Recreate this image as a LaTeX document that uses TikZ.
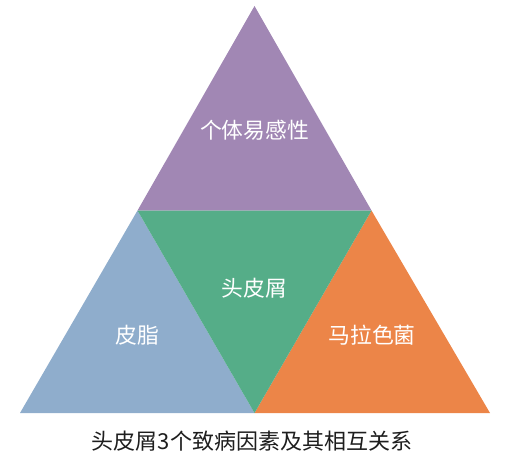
\documentclass[tikz,border=0pt]{standalone}
\usepackage{fontspec}
\newfontfamily\cjk{Noto Sans CJK SC}
\definecolor{cpurple}{RGB}{161,135,180}
\definecolor{cgreen}{RGB}{85,173,136}
\definecolor{cblue}{RGB}{143,173,204}
\definecolor{corange}{RGB}{236,133,72}
\definecolor{ctext}{RGB}{30,30,30}
\tikzset{
  lbl/.style={font=\cjk\fontsize{21.8}{25}\selectfont, text=white, inner sep=0pt},
  captext/.style={font=\cjk\fontsize{22}{26}\selectfont, text=ctext, inner sep=0pt}
}
\begin{document}
\begin{tikzpicture}[x=1pt,y=-1pt]
\useasboundingbox (0,0) rectangle (509,460);
\coordinate (A) at (254.5,6);
\coordinate (BL) at (20,413);
\coordinate (BR) at (490,413);
\coordinate (ML) at (137.5,210.5);
\coordinate (MR) at (371.5,210.5);
\coordinate (MB) at (254.5,413);
\fill[cpurple] (A) -- (MR) -- (ML) -- cycle;
\fill[cblue] (ML) -- (MB) -- (BL) -- cycle;
\fill[corange] (MR) -- (BR) -- (MB) -- cycle;
\fill[cgreen] (ML) -- (MR) -- (MB) -- cycle;
\node[lbl] (t1) at (254.5,130) {个体易感性};
\node[lbl] (t2) at (254.5,288) {头皮屑};
\node[lbl] (t3) at (137,335) {皮脂};
\node[lbl] (t4) at (372,335) {马拉色菌};
\node[captext] (capt) at (252,441) {头皮屑3个致病因素及其相互关系};
\end{tikzpicture}
\end{document}
